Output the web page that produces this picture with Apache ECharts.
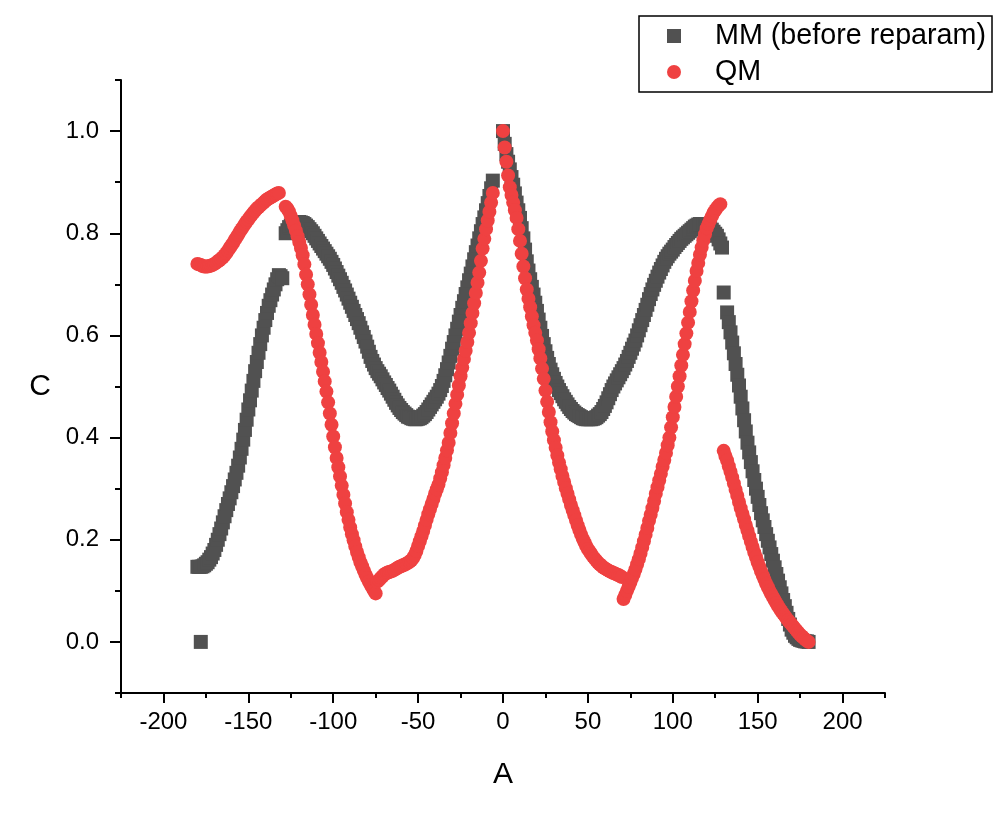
<!DOCTYPE html>
<html>
<head>
<meta charset="utf-8">
<script src="https://cdn.jsdelivr.net/npm/echarts@6.0.0/dist/echarts.min.js"></script>
<style>
  html, body { margin: 0; padding: 0; background: #fff; }
  #chart { width: 999px; height: 815px; }
</style>
</head>
<body>
<div id="chart"></div>
<script>
// angle grid of the scan, 1 degree steps
var angles = [];
for (var a = -180; a <= 180; a += 1) angles.push(a);

// MM (before reparam), one value per angle (null = no point)
var mmValues = [
  0.147, 0.147, 0.147, 0.148, 0.150, 0.153, 0.156, 0.161, 0.166, 0.173,   // -180
  0.180, 0.190, 0.200, 0.211, 0.222, 0.234, 0.246, 0.258, 0.270, 0.281,   // -170
  0.293, 0.305, 0.318, 0.331, 0.345, 0.361, 0.378, 0.396, 0.415, 0.435,   // -160
  0.455, 0.473, 0.492, 0.511, 0.530, 0.548, 0.566, 0.583, 0.600, 0.615,   // -150
  0.630, 0.644, 0.658, 0.669, 0.680, 0.690, 0.700, 0.710, 0.718, 0.716,   // -140
  0.712, null,  0.800, 0.806, 0.812, 0.815, 0.818, 0.820, 0.821, 0.822,   // -130
  0.822, 0.821, 0.820, 0.818, 0.815, 0.812, 0.808, 0.804, 0.800, 0.795,   // -120
  0.790, 0.785, 0.780, 0.775, 0.770, 0.765, 0.760, 0.755, 0.750, 0.744,   // -110
  0.738, 0.731, 0.724, 0.717, 0.710, 0.703, 0.695, 0.688, 0.680, 0.672,   // -100
  0.664, 0.656, 0.648, 0.640, 0.632, 0.624, 0.615, 0.606, 0.597, 0.588,   // -90
  0.578, 0.568, 0.558, 0.550, 0.543, 0.536, 0.530, 0.525, 0.520, 0.514,   // -80
  0.508, 0.503, 0.497, 0.492, 0.486, 0.480, 0.474, 0.468, 0.463, 0.458,   // -70
  0.454, 0.450, 0.447, 0.444, 0.441, 0.440, 0.438, 0.437, 0.436, 0.436,   // -60
  0.437, 0.438, 0.440, 0.443, 0.446, 0.450, 0.455, 0.460, 0.465, 0.470,   // -50
  0.475, 0.480, 0.486, 0.493, 0.501, 0.511, 0.522, 0.534, 0.547, 0.560,   // -40
  0.574, 0.587, 0.600, 0.613, 0.627, 0.640, 0.654, 0.667, 0.681, 0.694,   // -30
  0.708, 0.721, 0.735, 0.749, 0.763, 0.776, 0.790, 0.804, 0.818, 0.831,   // -20
  0.845, 0.859, 0.873, 0.888, 0.903, null,  null,  null,  null,  null,    // -10
  1.000, 0.975, 0.955, 0.940, 0.925, 0.910, 0.895, 0.878, 0.860, 0.845,   // 0
  0.830, 0.810, 0.790, 0.768, 0.745, 0.727, 0.710, 0.695, 0.680, 0.664,   // 10
  0.648, 0.631, 0.615, 0.599, 0.583, 0.569, 0.556, 0.544, 0.533, 0.524,   // 20
  0.515, 0.507, 0.500, 0.493, 0.487, 0.481, 0.475, 0.470, 0.465, 0.460,   // 30
  0.456, 0.452, 0.449, 0.446, 0.444, 0.442, 0.440, 0.438, 0.437, 0.436,   // 40
  0.436, 0.436, 0.436, 0.437, 0.438, 0.440, 0.443, 0.446, 0.450, 0.456,   // 50
  0.462, 0.469, 0.477, 0.485, 0.493, 0.500, 0.506, 0.512, 0.518, 0.524,   // 60
  0.530, 0.536, 0.543, 0.550, 0.558, 0.566, 0.574, 0.582, 0.590, 0.600,   // 70
  0.610, 0.620, 0.630, 0.640, 0.650, 0.660, 0.671, 0.681, 0.690, 0.699,   // 80
  0.707, 0.715, 0.723, 0.730, 0.737, 0.744, 0.750, 0.755, 0.760, 0.764,   // 90
  0.768, 0.773, 0.777, 0.781, 0.785, 0.789, 0.792, 0.795, 0.798, 0.801,   // 100
  0.804, 0.807, 0.810, 0.813, 0.815, 0.817, 0.818, 0.818, 0.818, 0.817,   // 110
  0.815, 0.813, 0.810, 0.807, 0.803, 0.799, 0.795, 0.788, 0.780, 0.772,   // 120
  0.684, null,  0.645, 0.626, 0.606, 0.586, 0.565, 0.544, 0.523, 0.502,   // 130
  0.480, 0.457, 0.434, 0.412, 0.390, 0.371, 0.352, 0.334, 0.317, 0.300,   // 140
  0.284, 0.268, 0.252, 0.238, 0.225, 0.211, 0.198, 0.185, 0.172, 0.159,   // 150
  0.146, 0.133, 0.120, 0.107, 0.095, 0.082, 0.070, 0.057, 0.045, 0.034,   // 160
  0.024, 0.018, 0.012, 0.009, 0.006, 0.004, 0.003, 0.002, 0.001, 0.001,   // 170
  0.000                                                                   // 180
];
// the lone MM point sitting on zero at the left end
var mmOutlier = [[-178, 0.0]];

// QM
var qmValues = [
  0.740, 0.739, 0.738, 0.736, 0.735, 0.735, 0.735, 0.736, 0.737, 0.738,   // -180
  0.740, 0.742, 0.745, 0.747, 0.750, 0.753, 0.757, 0.761, 0.766, 0.771,   // -170
  0.776, 0.781, 0.787, 0.792, 0.797, 0.803, 0.808, 0.813, 0.818, 0.823,   // -160
  0.827, 0.832, 0.836, 0.840, 0.844, 0.848, 0.851, 0.854, 0.857, 0.860,   // -150
  0.863, 0.866, 0.868, 0.870, 0.872, 0.874, 0.876, 0.878, 0.879, null,    // -140
  null,  null,  0.852, 0.848, 0.842, 0.834, 0.825, 0.815, 0.805, 0.794,   // -130
  0.783, 0.771, 0.757, 0.739, 0.719, 0.700, 0.680, 0.660, 0.640, 0.621,   // -120
  0.603, 0.585, 0.566, 0.548, 0.529, 0.510, 0.490, 0.469, 0.447, 0.425,   // -110
  0.402, 0.381, 0.360, 0.342, 0.324, 0.306, 0.288, 0.271, 0.254, 0.239,   // -100
  0.224, 0.211, 0.199, 0.187, 0.176, 0.166, 0.156, 0.148, 0.140, 0.132,   // -90
  0.125, 0.118, 0.112, 0.106, 0.100, 0.095, 0.118, 0.121, 0.125, 0.128,   // -80
  0.132, 0.134, 0.136, 0.137, 0.138, 0.139, 0.141, 0.143, 0.145, 0.147,   // -70
  0.148, 0.150, 0.151, 0.153, 0.155, 0.157, 0.160, 0.164, 0.170, 0.178,   // -60
  0.188, 0.197, 0.207, 0.217, 0.228, 0.239, 0.250, 0.260, 0.270, 0.280,   // -50
  0.290, 0.299, 0.308, 0.320, 0.332, 0.346, 0.360, 0.375, 0.390, 0.409,   // -40
  0.428, 0.447, 0.466, 0.484, 0.502, 0.520, 0.537, 0.554, 0.570, 0.587,   // -30
  0.605, 0.624, 0.644, 0.663, 0.683, 0.703, 0.723, 0.746, 0.770, 0.789,   // -20
  0.808, 0.825, 0.842, 0.860, 0.879, null,  null,  null,  null,  null,    // -10
  1.000, 0.968, 0.940, 0.913, 0.890, 0.875, 0.860, 0.845, 0.830, 0.808,   // 0
  0.785, 0.760, 0.735, 0.712, 0.690, 0.672, 0.655, 0.637, 0.620, 0.605,   // 10
  0.590, 0.573, 0.555, 0.535, 0.515, 0.492, 0.470, 0.450, 0.430, 0.412,   // 20
  0.395, 0.380, 0.365, 0.351, 0.338, 0.325, 0.313, 0.301, 0.290, 0.279,   // 30
  0.268, 0.258, 0.248, 0.238, 0.228, 0.219, 0.210, 0.202, 0.195, 0.188,   // 40
  0.182, 0.177, 0.172, 0.167, 0.163, 0.159, 0.155, 0.152, 0.149, 0.146,   // 50
  0.144, 0.142, 0.140, 0.138, 0.137, 0.135, 0.134, 0.132, 0.131, 0.129,   // 60
  0.127, 0.084, 0.092, 0.100, 0.108, 0.116, 0.125, 0.133, 0.142, 0.152,   // 70
  0.162, 0.173, 0.185, 0.197, 0.210, 0.223, 0.237, 0.249, 0.262, 0.276,   // 80
  0.290, 0.303, 0.316, 0.329, 0.343, 0.356, 0.370, 0.385, 0.400, 0.420,   // 90
  0.440, 0.460, 0.480, 0.500, 0.520, 0.541, 0.562, 0.583, 0.604, 0.625,   // 100
  0.646, 0.667, 0.688, 0.707, 0.726, 0.742, 0.758, 0.772, 0.786, 0.798,   // 110
  0.810, 0.818, 0.826, 0.833, 0.840, 0.845, 0.850, 0.854, 0.857, null,    // 120
  0.374, 0.364, 0.355, 0.344, 0.333, 0.322, 0.310, 0.298, 0.286, 0.274,   // 130
  0.262, 0.251, 0.240, 0.229, 0.218, 0.207, 0.196, 0.186, 0.175, 0.166,   // 140
  0.156, 0.147, 0.138, 0.130, 0.122, 0.114, 0.107, 0.100, 0.094, 0.088,   // 150
  0.082, 0.076, 0.070, 0.065, 0.060, 0.055, 0.051, 0.046, 0.042, 0.038,   // 160
  0.034, 0.030, 0.026, 0.022, 0.018, 0.014, 0.011, 0.008, 0.005, 0.002,   // 170
  0.000                                                                   // 180
];

var xMajorTicks = [-200, -150, -100, -50, 0, 50, 100, 150, 200];
var xMinorTicks = [-225, -175, -125, -75, -25, 25, 75, 125, 175, 225];
var yMajorTicks = [0, 0.2, 0.4, 0.6, 0.8, 1.0];
var yMinorTicks = [-0.1, 0.1, 0.3, 0.5, 0.7, 0.9, 1.1];

function pairs(xs, ys) {
  var out = [];
  for (var i = 0; i < xs.length; i++) {
    if (ys[i] != null) out.push([xs[i], ys[i]]);
  }
  return out;
}

var font = '"Liberation Sans", Arial, sans-serif';
var chart = echarts.init(document.getElementById('chart'));

var axisLineStyle = { color: '#000', width: 2 };

var option = {
  animation: false,
  backgroundColor: '#fff',
  textStyle: { fontFamily: font },
  legend: {
    data: ['MM (before reparam)', 'QM'],
    orient: 'vertical',
    left: 639,
    top: 16,
    padding: [3, 6, 3, 28],
    itemGap: 2,
    itemWidth: 14,
    itemHeight: 14,
    borderColor: '#000',
    borderWidth: 1.5,
    selectedMode: false,
    textStyle: { fontSize: 28.7, color: '#000', padding: [0, 0, 0, 29], lineHeight: 34, fontFamily: font }
  },
  grid: { left: 121, right: 114, top: 80, bottom: 122 },
  xAxis: [{
    type: 'value',
    min: -225,
    max: 225,
    name: 'A',
    nameLocation: 'middle',
    nameGap: 67,
    nameTextStyle: { fontSize: 30, color: '#000', fontFamily: font },
    axisLine: { onZero: false, lineStyle: axisLineStyle },
    axisTick: { customValues: xMajorTicks, length: 10, lineStyle: axisLineStyle },
    axisLabel: { customValues: xMajorTicks, fontSize: 24, color: '#000', margin: 17, fontFamily: font },
    splitLine: { show: false }
  }, {
    type: 'value',
    min: -225,
    max: 225,
    position: 'bottom',
    axisLine: { show: false, onZero: false },
    axisTick: { customValues: xMinorTicks, length: 5, lineStyle: axisLineStyle },
    axisLabel: { show: false },
    splitLine: { show: false }
  }],
  yAxis: [{
    type: 'value',
    min: -0.1,
    max: 1.1,
    name: 'C',
    nameLocation: 'middle',
    nameGap: 70,
    nameRotate: 0,
    nameTextStyle: { fontSize: 30, color: '#000', fontFamily: font },
    axisLine: { onZero: false, lineStyle: axisLineStyle },
    axisTick: { customValues: yMajorTicks, length: 11, lineStyle: axisLineStyle },
    axisLabel: {
      customValues: yMajorTicks, fontSize: 24, color: '#000', margin: 22, fontFamily: font,
      formatter: function (v) { return v.toFixed(1); }
    },
    splitLine: { show: false }
  }, {
    type: 'value',
    min: -0.1,
    max: 1.1,
    position: 'left',
    axisLine: { show: false, onZero: false },
    axisTick: { customValues: yMinorTicks, length: 6, lineStyle: axisLineStyle },
    axisLabel: { show: false },
    splitLine: { show: false }
  }],
  series: [{
    name: 'MM (before reparam)',
    type: 'scatter',
    symbol: 'rect',
    symbolSize: 14,
    itemStyle: { color: '#515151', opacity: 1 },
    emphasis: { disabled: true },
    data: pairs(angles, mmValues).concat(mmOutlier)
  }, {
    name: 'QM',
    type: 'scatter',
    symbol: 'circle',
    symbolSize: 14,
    itemStyle: { color: '#ef4141', opacity: 1 },
    emphasis: { disabled: true },
    data: pairs(angles, qmValues)
  }]
};

chart.setOption(option);
</script>
</body>
</html>
